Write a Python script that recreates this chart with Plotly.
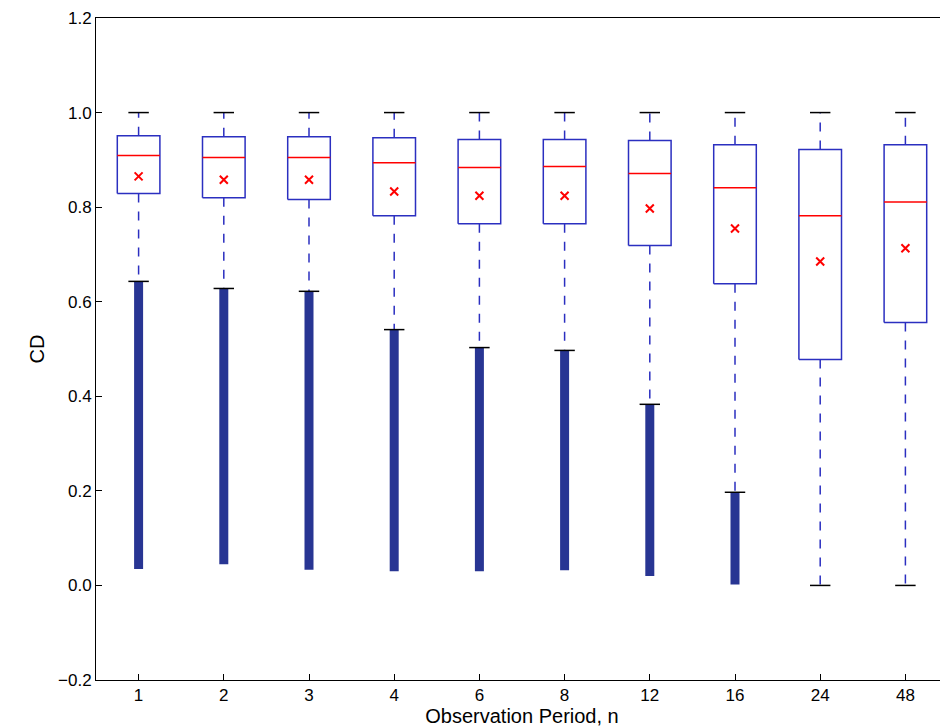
import plotly.graph_objects as go

cats = ["1","2","3","4","6","8","12","16","24","48"]
q3 = [0.951,0.949,0.949,0.947,0.943,0.943,0.941,0.932,0.922,0.932]
med = [0.909,0.905,0.905,0.894,0.884,0.886,0.871,0.841,0.782,0.811]
q1 = [0.829,0.820,0.816,0.782,0.765,0.765,0.719,0.638,0.478,0.556]
mean = [0.865,0.858,0.858,0.833,0.824,0.824,0.797,0.755,0.685,0.713]
lw = [0.643,0.628,0.622,0.541,0.503,0.497,0.383,0.197,0.0,0.0]
uw = [1.0]*10
omin = [0.035,0.045,0.033,0.030,0.030,0.032,0.020,0.002,None,None]

BW, CW = 0.25, 0.12
blue = "#2b2fc0"
fig = go.Figure()
bx, by, wx, wy, cx, cy, mx, my, ox, oy = [], [], [], [], [], [], [], [], [], []
for i in range(len(cats)):
    p = i + 1
    bx += [p-BW, p+BW, p+BW, p-BW, p-BW, None]
    by += [q1[i], q1[i], q3[i], q3[i], q1[i], None]
    wx += [p, p, None, p, p, None]
    wy += [q3[i], uw[i], None, q1[i], lw[i], None]
    cx += [p-CW, p+CW, None, p-CW, p+CW, None]
    cy += [uw[i], uw[i], None, lw[i], lw[i], None]
    mx += [p-BW, p+BW, None]
    my += [med[i], med[i], None]
    if omin[i] is not None:
        ox += [p, p, None]
        oy += [omin[i], lw[i], None]

fig.add_trace(go.Scatter(x=ox, y=oy, mode="lines", line=dict(color="#283593", width=9)))
fig.add_trace(go.Scatter(x=wx, y=wy, mode="lines", line=dict(color=blue, width=1.5, dash="dash")))
fig.add_trace(go.Scatter(x=bx, y=by, mode="lines", line=dict(color=blue, width=1.5)))
fig.add_trace(go.Scatter(x=cx, y=cy, mode="lines", line=dict(color="black", width=1.5)))
fig.add_trace(go.Scatter(x=mx, y=my, mode="lines", line=dict(color="red", width=1.5)))
fig.add_trace(go.Scatter(x=list(range(1, 11)), y=mean, mode="markers",
                         marker=dict(symbol="x-thin", size=8, line=dict(color="red", width=2))))

ax = dict(showgrid=False, zeroline=False, mirror=True, showline=True, linecolor="black",
          linewidth=1, ticks="inside", ticklen=6, tickcolor="black", automargin=False)
fig.update_layout(
    width=948, height=728, showlegend=False, plot_bgcolor="white", paper_bgcolor="white",
    margin=dict(l=88, r=8, t=10, b=56),
    font=dict(family="Liberation Sans, Arial", size=17, color="black"),
    xaxis=dict(ax, range=[0.5, 10.5], tickvals=list(range(1, 11)), ticktext=cats,
               title=dict(text="Observation Period, n", standoff=4)),
    yaxis=dict(ax, range=[-0.2, 1.2], dtick=0.2, tickformat=".1f",
               title=dict(text="CD", standoff=8)),
)
fig.write_html("out.html")
